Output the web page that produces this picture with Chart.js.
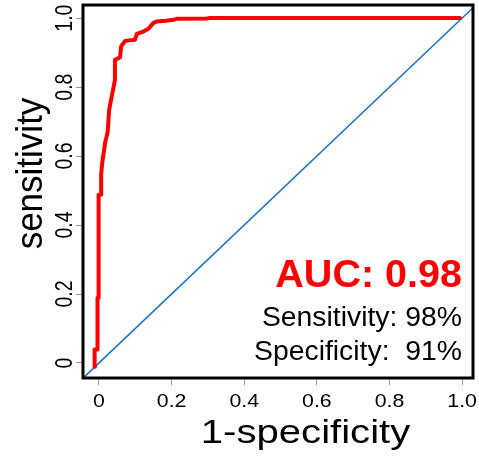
<!DOCTYPE html>
<html>
<head>
<meta charset="utf-8">
<script src="https://cdn.jsdelivr.net/npm/chart.js@4.4.1/dist/chart.umd.min.js"></script>
<style>
  body { margin: 0; background: #fff; }
  canvas { display: block; }
</style>
</head>
<body>
<canvas id="rocChart" width="479" height="461"></canvas>
<script>
// ROC curve (1-specificity, sensitivity)
var fpr = [-0.011, -0.012, -0.005, -0.004, -0.002, -0.001, 0.006, 0.006, 0.009, 0.017, 0.024, 0.028, 0.035, 0.044, 0.044, 0.058, 0.061, 0.072, 0.099, 0.104, 0.122, 0.136, 0.150, 0.159, 0.182, 0.205, 0.214, 0.297, 0.306, 0.994];
var tpr = [-0.011, 0.039, 0.039, 0.189, 0.189, 0.488, 0.488, 0.546, 0.581, 0.639, 0.670, 0.734, 0.772, 0.821, 0.879, 0.886, 0.918, 0.934, 0.937, 0.954, 0.961, 0.969, 0.986, 0.990, 0.992, 0.995, 0.998, 0.999, 1.0, 1.0];
var diagX = [-0.1, 1.1];
var diagY = [-0.1, 1.1];
var tickVals = [0, 0.2, 0.4, 0.6, 0.8, 1.0];
var xTickLabels = ["0", "0.2", "0.4", "0.6", "0.8", "1.0"];
var yTickLabels = ["0", "0.2", "0.4", "0.6", "0.8", "1.0"];
var aucText = "AUC: 0.98";
var sensText = "Sensitivity: 98%";
var specText = "Specificity:  91%";

var FONT = "'Liberation Sans', Arial, sans-serif";

// draws text at (x,y), stretched sideways by sx on screen
function txt(ctx, s, x, y, font, color, align, sx, rot) {
    ctx.save();
    ctx.translate(x, y);
    ctx.scale(sx, 1);
    if (rot) ctx.rotate(rot);
    ctx.font = font;
    ctx.fillStyle = color;
    ctx.textAlign = align;
    ctx.textBaseline = "alphabetic";
    ctx.fillText(s, 0, 0);
    ctx.restore();
}

var boxAndText = {
    id: "boxAndText",
    afterDraw: function (chart) {
        var ctx = chart.ctx;
        var a = chart.chartArea;
        var xs = chart.scales.x, ys = chart.scales.y;

        // frame
        ctx.save();
        ctx.strokeStyle = "#000";
        ctx.lineWidth = 3;
        ctx.strokeRect(a.left, a.top, a.right - a.left, a.bottom - a.top);
        ctx.restore();

        // tick labels
        for (var i = 0; i < tickVals.length; i++) {
            var px = xs.getPixelForValue(tickVals[i]);
            txt(ctx, xTickLabels[i], px, 407, "19px " + FONT, "#000", "center", 1.12, 0);
            var py = ys.getPixelForValue(tickVals[i]);
            txt(ctx, yTickLabels[i], 72, py, "19.5px " + FONT, "#000", "center", 1.2, -Math.PI / 2);
        }

        // axis titles
        txt(ctx, "1-specificity", 305.5, 443, "34px " + FONT, "#000", "center", 1.18, 0);
        txt(ctx, "sensitivity", 42, 173.5, "35px " + FONT, "#000", "center", 1.05, -Math.PI / 2);

        // annotations
        txt(ctx, aucText, 462, 287, "bold 38px " + FONT, "#ff0000", "right", 1.04, 0);
        txt(ctx, sensText, 462, 326, "27px " + FONT, "#000", "right", 1.05, 0);
        txt(ctx, specText, 462, 360, "27px " + FONT, "#000", "right", 1.05, 0);
    }
};

new Chart("rocChart", {
    type: "scatter",
    data: {
        datasets: [
            {
                data: diagX.map(function (v, i) { return { x: v, y: diagY[i] }; }),
                showLine: true,
                borderColor: "#1a73c8",
                borderWidth: 1.6,
                pointRadius: 0,
                order: 2
            },
            {
                data: fpr.map(function (v, i) { return { x: v, y: tpr[i] }; }),
                showLine: true,
                borderColor: "#ff0000",
                borderWidth: 4,
                borderCapStyle: "round",
                borderJoinStyle: "round",
                pointRadius: 0,
                order: 1
            }
        ]
    },
    options: {
        responsive: false,
        animation: false,
        layout: { padding: { left: 0, right: 6, top: 5, bottom: 0 } },
        plugins: { legend: { display: false }, tooltip: { enabled: false } },
        scales: {
            x: {
                type: "linear",
                min: -0.044,
                max: 1.03,
                afterBuildTicks: function (s) { s.ticks = tickVals.map(function (v) { return { value: v }; }); },
                afterFit: function (s) { s.height = 83; },
                ticks: { display: false },
                border: { display: false },
                grid: { drawOnChartArea: false, drawTicks: true, tickLength: 7, color: "#999", lineWidth: 1 }
            },
            y: {
                type: "linear",
                min: -0.0435,
                max: 1.038,
                afterBuildTicks: function (s) { s.ticks = tickVals.map(function (v) { return { value: v }; }); },
                afterFit: function (s) { s.width = 83; },
                ticks: { display: false },
                border: { display: false },
                grid: { drawOnChartArea: false, drawTicks: true, tickLength: 7, color: "#999", lineWidth: 1 }
            }
        }
    },
    plugins: [boxAndText]
});
</script>
</body>
</html>
